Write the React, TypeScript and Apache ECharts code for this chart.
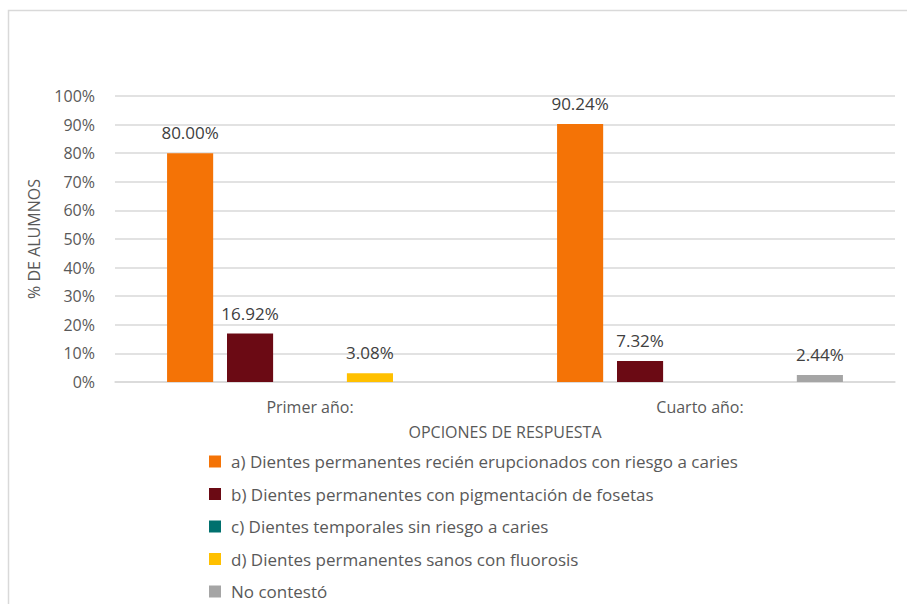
import React, { useEffect, useRef } from "react";
import * as echarts from "echarts";

const categories = ["Primer año:", "Cuarto año:"];
const seriesNames = [
  "a) Dientes permanentes recién erupcionados con riesgo a caries",
  "b) Dientes permanentes con pigmentación de fosetas",
  "c) Dientes temporales sin riesgo a caries",
  "d) Dientes permanentes sanos con fluorosis",
  "No contestó",
];
const seriesA = [80.0, 90.24];
const seriesB = [16.92, 7.32];
const seriesC = [0, 0];
const seriesD = [3.08, 0];
const seriesE = [0, 2.44];
const colors = ["#F47306", "#6B0A14", "#00706E", "#FFC000", "#A5A5A5"];
const yTicks = { min: 0, max: 100, interval: 10 };

const FONT = "Open Sans";

export default function App() {
  const ref = useRef<HTMLDivElement>(null);
  useEffect(() => {
    if (!ref.current) return;
    const chart = echarts.init(ref.current, null, { renderer: "svg" });
    const allData = [seriesA, seriesB, seriesC, seriesD, seriesE];
    chart.setOption({
      animation: false,
      textStyle: { fontFamily: FONT },
      graphic: [
        {
          type: "rect",
          shape: { x: 8.5, y: 10.5, width: 1000, height: 1000 },
          style: { fill: "none", stroke: "#d9d9d9", lineWidth: 1.5 },
          silent: true,
        },
      ],
      grid: { left: 115, right: 12, top: 96, bottom: 222 },
      legend: {
        orient: "vertical",
        left: 209,
        top: 453,
        padding: 0,
        itemWidth: 12,
        itemHeight: 12,
        itemGap: 15.5,
        icon: "rect",
        textStyle: { fontFamily: FONT, fontSize: 17, color: "#595959", lineHeight: 17, padding: [0, 0, 0, 5] },
        data: seriesNames,
      },
      xAxis: {
        type: "category",
        data: categories,
        name: "OPCIONES DE RESPUESTA",
        nameLocation: "middle",
        nameGap: 42,
        nameTextStyle: { fontFamily: FONT, fontSize: 16, color: "#595959" },
        axisLine: { show: true, lineStyle: { color: "#d9d9d9", width: 1.5 } },
        axisTick: { show: false },
        axisLabel: { fontFamily: FONT, fontSize: 16, color: "#595959", margin: 17 },
      },
      yAxis: {
        type: "value",
        min: yTicks.min,
        max: yTicks.max,
        interval: yTicks.interval,
        name: "% DE ALUMNOS",
        nameLocation: "middle",
        nameGap: 73,
        nameRotate: 90,
        nameTextStyle: { fontFamily: FONT, fontSize: 16, color: "#595959" },
        axisLine: { show: false },
        axisTick: { show: false },
        axisLabel: { fontFamily: FONT, fontSize: 16, color: "#595959", margin: 20, formatter: "{value}%" },
        splitLine: { lineStyle: { color: "#d9d9d9", width: 1.5 } },
      },
      series: seriesNames.map((name, i) => ({
        name,
        type: "bar",
        data: allData[i],
        barGap: "30%",
        barCategoryGap: "26.7%",
        itemStyle: { color: colors[i] },
        label: {
          show: true,
          position: "top",
          distance: 12,
          fontFamily: FONT,
          fontSize: 17,
          color: "#404040",
          formatter: (p: any) => (p.value > 0 ? p.value.toFixed(2) + "%" : ""),
        },
      })),
    });
    return () => chart.dispose();
  }, []);
  return (
    <div
      ref={ref}
      style={{ position: "fixed", left: 0, top: 0, width: 907, height: 604, background: "#fff" }}
    />
  );
}
